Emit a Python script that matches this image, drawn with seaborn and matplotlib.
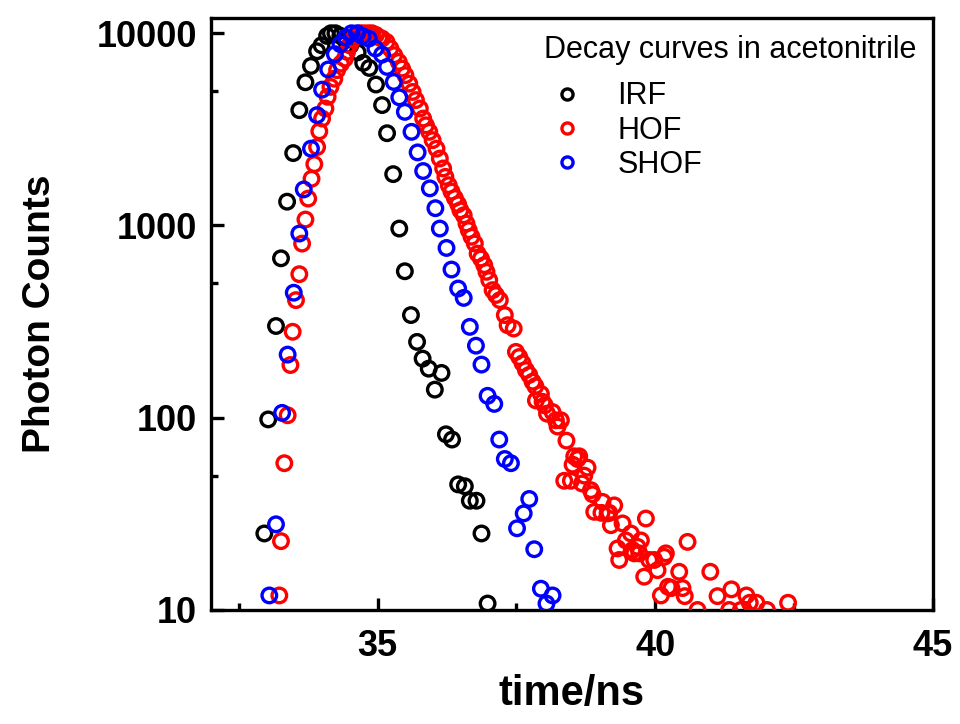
import numpy as np
import pandas as pd
import matplotlib
matplotlib.use("Agg")
import matplotlib.pyplot as plt
from matplotlib.ticker import FixedLocator, FixedFormatter, NullFormatter
import seaborn as sns

# ---------------- data ----------------
irf_t = [32.96, 33.03, 33.17, 33.26, 33.37, 33.48, 33.59, 33.70, 33.80, 33.91,
         33.99, 34.09, 34.16, 34.24, 34.33, 34.42, 34.51, 34.64, 34.74, 34.85,
         34.97, 35.08, 35.17, 35.28, 35.39, 35.49, 35.60, 35.71, 35.81, 35.92,
         36.03, 36.15, 36.23, 36.34, 36.45, 36.57, 36.66, 36.78, 36.87, 36.98]
irf_c = [25, 98, 300, 675, 1330, 2380, 3980, 5560, 6760, 8060,
         8660, 9680, 10000, 10000, 9700, 9200, 8660, 7960, 7010, 6600,
         5410, 4230, 3020, 1850, 964, 578, 342, 248, 203, 180,
         140, 171, 82, 77, 45, 44, 37, 37, 25, 10.8]

hof_t = [33.23, 33.26, 33.32, 33.38, 33.43, 33.47, 33.53, 33.59, 33.64, 33.70,
         33.75, 33.81, 33.86, 33.91, 33.95, 34.00, 34.06, 34.10, 34.15, 34.22,
         34.27, 34.34, 34.41, 34.45, 34.50, 34.55, 34.61, 34.68, 34.75, 34.83,
         34.90, 34.97, 35.03, 35.08, 35.16, 35.23, 35.30, 35.38, 35.44, 35.50,
         35.57, 35.63, 35.69, 35.76, 35.82, 35.87, 35.93, 35.99, 36.06, 36.12,
         36.18, 36.22, 36.28, 36.33, 36.39, 36.45, 36.49, 36.55, 36.60, 36.64,
         36.69, 36.75, 36.80, 36.86, 36.92, 36.96, 37.01, 37.07, 37.13, 37.20,
         37.29, 37.34, 37.45, 37.49, 37.55, 37.61, 37.67, 37.73, 37.79, 37.84,
         37.85, 37.94, 37.97, 38.01, 38.05, 38.15, 38.21, 38.24, 38.30, 38.36,
         38.40, 38.48, 38.51, 38.54, 38.60, 38.63, 38.68, 38.72, 38.78, 38.84,
         38.87, 38.90, 39.03, 39.05, 39.14, 39.17, 39.20, 39.26, 39.32, 39.35,
         39.41, 39.47, 39.56, 39.59, 39.62, 39.68, 39.71, 39.74, 39.80, 39.83,
         39.89, 39.98, 40.04, 40.10, 40.16, 40.19, 40.23, 40.29, 40.43, 40.49,
         40.53, 40.58, 40.76, 40.99, 41.12, 41.33, 41.37, 41.54, 41.64, 41.70,
         41.82, 42.01, 42.39]
hof_c = [11.9, 22.8, 58, 103, 188, 280, 409, 558, 805, 1074,
         1380, 1750, 2085, 2560, 3090, 3600, 4060, 4670, 5260, 5800,
         6430, 6950, 7380, 8000, 8700, 9300, 9700, 10000, 10000, 10000,
         10000, 9800, 9500, 9380, 9010, 8330, 7690, 7090, 6550, 6050,
         5470, 4950, 4490, 4060, 3600, 3320, 3070, 2780, 2510, 2230,
         1980, 1790, 1620, 1500, 1390, 1290, 1200, 1130, 1024, 946,
         874, 806, 714, 673, 622, 574, 520, 461, 435, 409,
         342, 303, 291, 220, 207, 192, 177, 167, 154, 146,
         123, 133, 121, 116, 105, 107, 97, 90, 97, 47,
         76, 47, 57, 63, 61, 63, 45.5, 50, 55, 42,
         40, 32.4, 32, 36.5, 31.8, 32, 27.6, 35, 20.9, 18.2,
         28.2, 23, 25, 20.5, 19.7, 21.3, 19.7, 23, 14.9, 29.9,
         18.2, 18.2, 16.1, 11.9, 18.9, 19.7, 13.2, 13, 15.8, 13,
         11.8, 22.6, 10, 15.8, 11.8, 10, 12.8, 10, 11.9, 10.9,
         10.9, 10, 10.9]

shof_t = [33.05, 33.17, 33.28, 33.38, 33.49, 33.59, 33.67, 33.80, 33.91, 34.00,
          34.11, 34.23, 34.33, 34.43, 34.53, 34.63, 34.73, 34.84, 34.96, 35.08,
          35.17, 35.29, 35.39, 35.49, 35.61, 35.72, 35.82, 35.94, 36.04, 36.12,
          36.24, 36.33, 36.45, 36.55, 36.66, 36.77, 36.87, 36.98, 37.10, 37.19,
          37.29, 37.40, 37.51, 37.63, 37.73, 37.82, 37.94, 38.04, 38.15]
shof_c = [11.9, 27.9, 106, 213, 447, 908, 1540, 2510, 3750, 5090,
          6480, 7780, 8770, 9500, 10000, 10000, 9650, 9380, 8330, 7740,
          6680, 5580, 4640, 3900, 3070, 2400, 1920, 1560, 1230, 964,
          764, 590, 470, 420, 297, 237, 189, 130, 118, 77,
          61, 58, 26.6, 31.8, 37.8, 20.7, 12.9, 10.8, 11.9]

series_names = ["IRF", "HOF", "SHOF"]
series_colors = ["#000000", "#ff0000", "#0000ff"]

x_ticks = [35, 40, 45]
x_minor = [32.5, 37.5, 42.5]
y_ticks = [10, 100, 1000, 10000]
y_tick_labels = ["10", "100", "1000", "10000"]
y_minor = [50, 500, 5000]

df = pd.concat([
    pd.DataFrame({"time": irf_t, "counts": irf_c, "series": "IRF"}),
    pd.DataFrame({"time": hof_t, "counts": hof_c, "series": "HOF"}),
    pd.DataFrame({"time": shof_t, "counts": shof_c, "series": "SHOF"}),
], ignore_index=True)

# ---------------- style ----------------
sns.set_theme(style="ticks")
plt.rcParams["font.family"] = ["Liberation Sans", "DejaVu Sans"]
plt.rcParams["text.color"] = "black"
plt.rcParams["axes.labelcolor"] = "black"
plt.rcParams["xtick.color"] = "black"
plt.rcParams["ytick.color"] = "black"

fig = plt.figure(figsize=(9.6, 7.24), dpi=100)
ax = fig.add_axes([0.2198, 0.1575, 0.7521, 0.8176])

for name, col in zip(series_names, series_colors):
    sub = df[df["series"] == name]
    sns.scatterplot(data=sub, x="time", y="counts", ax=ax, marker="o", s=110,
                    facecolor="none", edgecolor=col, linewidth=2.4,
                    legend=False, zorder=3)

# make sure the hollow rings have the reference's size and stroke
for coll, col in zip(ax.collections, series_colors):
    coll.set_sizes([110])
    coll.set_linewidths([2.4])
    coll.set_facecolor("none")
    coll.set_edgecolor(col)

ax.set_yscale("log")
ax.set_xlim(32, 45)
ax.set_ylim(10, 12000)

ax.xaxis.set_major_locator(FixedLocator(x_ticks))
ax.xaxis.set_minor_locator(FixedLocator(x_minor))
ax.yaxis.set_major_locator(FixedLocator(y_ticks))
ax.yaxis.set_major_formatter(FixedFormatter(y_tick_labels))
ax.yaxis.set_minor_locator(FixedLocator(y_minor))
ax.yaxis.set_minor_formatter(NullFormatter())

for sp in ax.spines.values():
    sp.set_visible(True)
    sp.set_linewidth(2.4)
    sp.set_color("black")

ax.tick_params(which="major", direction="in", length=9, width=2.4,
               labelsize=26, pad=10, color="black", labelcolor="black")
ax.tick_params(which="minor", direction="in", length=5, width=2.4, color="black")
ax.tick_params(axis="x", which="major", pad=14)
for lab in ax.get_xticklabels() + ax.get_yticklabels():
    lab.set_fontweight("bold")

ax.set_xlabel("time/ns", fontsize=30, fontweight="bold", labelpad=7)
ax.set_ylabel("Photon Counts", fontsize=28, fontweight="bold", labelpad=28)

handles = [plt.Line2D([], [], linestyle="none", marker="o", markersize=8,
                      markerfacecolor="none", markeredgecolor=c, markeredgewidth=2.4)
           for c in series_colors]
leg = ax.legend(handles, series_names, title="Decay curves in acetonitrile",
                loc="upper right", bbox_to_anchor=(1.0, 1.0), frameon=False,
                fontsize=22, title_fontsize=22, handlelength=1.5,
                handletextpad=0.9, labelspacing=0.14, borderaxespad=0.15,
                alignment="left")
leg._legend_box.sep = 12

fig.savefig("out.png", dpi=100, facecolor="white")
